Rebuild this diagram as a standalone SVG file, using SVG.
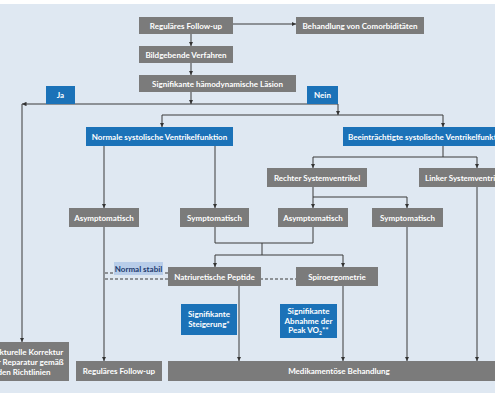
<svg xmlns="http://www.w3.org/2000/svg" width="495" height="400" viewBox="0 0 495 400">
<defs>
<marker id="ah" viewBox="0 0 6 6" refX="6" refY="3" markerWidth="4.5" markerHeight="4.5" orient="auto"><path d="M0,0 L6,3 L0,6 z" fill="#333"/></marker>
<style>
.g{fill:#7b7b7b}
.b{fill:#1b72b8}
.t{font-family:"Lato","Liberation Sans",sans-serif;font-size:8px;font-weight:700;fill:#fff;text-anchor:middle}
.ln{fill:none;stroke:#3a3a3a;stroke-width:1}
.a{marker-end:url(#ah)}
.d{fill:none;stroke:#3a3a3a;stroke-width:1;stroke-dasharray:3,2}
</style>
</defs>
<rect x="0" y="0" width="495" height="400" fill="#fff"/>
<rect x="0" y="4" width="495" height="389" fill="#dfe8f2"/>
<g id="connectors">
<path class="ln a" d="M233,24 H296"/>
<path class="ln a" d="M191,34 V46"/>
<path class="ln a" d="M191,63 V75"/>
<path class="ln a" d="M191,92 V104"/>
<path class="ln a" d="M191,104 H22"/>
<path class="ln a" d="M22,104 V342"/>
<path class="ln a" d="M191,104 H338 V115"/>
<path class="ln a" d="M300,115 H162 V127"/>
<path class="ln a" d="M300,115 H443 V127"/>
<path class="ln a" d="M104,146 V208"/>
<path class="ln a" d="M215,146 V208"/>
<path class="ln a" d="M443,146 V157 H313 V168"/>
<path class="ln a" d="M443,157 H477 V168"/>
<path class="ln a" d="M313,187 V208"/>
<path class="ln a" d="M313,197 H407 V208"/>
<path class="ln" d="M215,227 V243 H313 V227"/>
<path class="ln" d="M262,243 V255"/>
<path class="ln a" d="M262,255 H215 V267"/>
<path class="ln a" d="M262,255 H343 V267"/>
<path class="ln a" d="M104,227 V361"/>
<path class="ln a" d="M239,286 V361"/>
<path class="ln a" d="M343,286 V361"/>
<path class="ln a" d="M407,227 V361"/>
<path class="ln a" d="M477,187 V361"/>
<path class="d" d="M105,273 H168"/>
<path class="d" d="M105,279 H296"/>
</g>
<g id="n-follow1"><rect class="g" x="139" y="17" width="94" height="17"/><text class="t" x="186" y="28.5">Reguläres Follow-up</text></g>
<g id="n-comorb"><rect class="g" x="296" y="17" width="128" height="17"/><text class="t" x="360" y="28.5">Behandlung von Comorbiditäten</text></g>
<g id="n-bild"><rect class="g" x="139" y="46" width="94" height="17"/><text class="t" x="186" y="57.5">Bildgebende Verfahren</text></g>
<g id="n-laesion"><rect class="g" x="139" y="75" width="157" height="17"/><text class="t" x="217.5" y="86.5">Signifikante hämodynamische Läsion</text></g>
<g id="n-ja"><rect class="b" x="46" y="86" width="29" height="18"/><text class="t" x="60.5" y="97.5">Ja</text></g>
<g id="n-nein"><rect class="b" x="307" y="86" width="31" height="18"/><text class="t" x="322.5" y="97.5">Nein</text></g>
<g id="n-normal"><rect class="b" x="86" y="127" width="147" height="19"/><text class="t" x="159.5" y="139.5">Normale systolische Ventrikelfunktion</text></g>
<g id="n-beein"><rect class="b" x="343" y="127" width="160" height="19"/><text class="t" x="348" y="139.5" style="text-anchor:start">Beeinträchtigte systolische Ventrikelfunktion</text></g>
<g id="n-asym1"><rect class="g" x="69" y="208" width="70" height="19"/><text class="t" x="104" y="220.5">Asymptomatisch</text></g>
<g id="n-sym1"><rect class="g" x="180" y="208" width="69" height="19"/><text class="t" x="214.5" y="220.5">Symptomatisch</text></g>
<g id="n-rechter"><rect class="g" x="267" y="168" width="100" height="19"/><text class="t" x="317" y="180.5">Rechter Systemventrikel</text></g>
<g id="n-linker"><rect class="g" x="419" y="168" width="90" height="19"/><text class="t" x="425" y="180.5" style="text-anchor:start">Linker Systemventrikel</text></g>
<g id="n-asym2"><rect class="g" x="278" y="208" width="70" height="19"/><text class="t" x="313" y="220.5">Asymptomatisch</text></g>
<g id="n-sym2"><rect class="g" x="372" y="208" width="71" height="19"/><text class="t" x="407.5" y="220.5">Symptomatisch</text></g>
<g id="n-stabil"><rect x="114" y="262" width="49" height="13" fill="#b8cde9"/><text class="t" x="138.5" y="271.5" style="fill:#1d3a6e">Normal stabil</text></g>
<g id="n-natri"><rect class="g" x="168" y="267" width="93" height="19"/><text class="t" x="214.5" y="279.5">Natriuretische Peptide</text></g>
<g id="n-spiro"><rect class="g" x="296" y="267" width="82" height="19"/><text class="t" x="337" y="279.5">Spiroergometrie</text></g>
<g id="n-steig"><rect class="b" x="181" y="304" width="56" height="31"/><text class="t" x="209" y="317">Signifikante</text><text class="t" x="209" y="327">Steigerung*</text></g>
<g id="n-abn"><rect class="b" x="280" y="304" width="57" height="34"/><text class="t" x="308.5" y="314">Signifikante</text><text class="t" x="308.5" y="323.5">Abnahme der</text><text class="t" x="308.5" y="333">Peak VO<tspan font-size="5" dy="2">2</tspan><tspan dy="-2">**</tspan></text></g>
<g id="n-strukt"><rect class="g" x="-20" y="342" width="89" height="39"/><text class="t" x="24" y="355">Strukturelle Korrektur</text><text class="t" x="24" y="365">oder Reparatur gemäß</text><text class="t" x="24" y="375">den Richtlinien</text></g>
<g id="n-follow2"><rect class="g" x="76" y="361" width="86" height="20"/><text class="t" x="119" y="374">Reguläres Follow-up</text></g>
<g id="n-medi"><rect class="g" x="168" y="361" width="340" height="20"/><text class="t" x="339" y="374">Medikamentöse Behandlung</text></g>
</svg>
